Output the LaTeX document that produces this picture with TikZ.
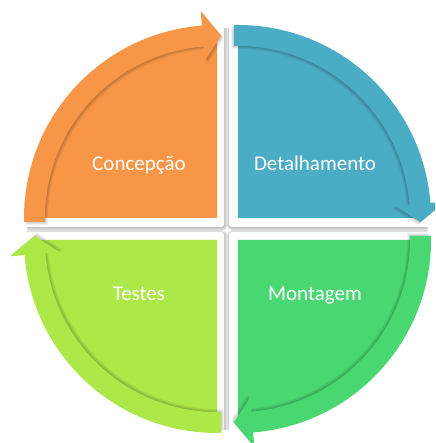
\documentclass[tikz,border=0pt]{standalone}
\usepackage{fontspec}
\setmainfont{Carlito}
\definecolor{corange}{RGB}{247,150,70}
\definecolor{cblue}{RGB}{75,172,198}
\definecolor{clime}{RGB}{173,232,73}
\definecolor{cgreen}{RGB}{73,215,114}
\tikzset{
  lbl/.style={text=white, font=\fontsize{21}{25}\selectfont, anchor=base, inner sep=0pt},
  panelshadow/.style={draw=black, opacity=0.045, rounded corners=3pt},
  bandshadow/.style={fill=black, opacity=0.045},
}
% band with arrow head, centred at origin, start angle #1, clockwise
\newcommand{\bandpath}[1]{%
 (#1+1.332:172.05) -- (#1+1.188:193.04) -- (#1:193)
 arc[start angle=#1, end angle=#1-85.5, radius=193]
 -- (#1-85.5:207.5) -- (#1-91.3:182.5) -- (#1-85.5:157.5)
 -- (#1-85.5:172) arc[start angle=#1-85.5, end angle=#1, radius=172] -- cycle}
\begin{document}
\begin{tikzpicture}[x=1pt,y=1pt]
\useasboundingbox (0,0) rectangle (435,443);
\clip (0,0) rectangle (435,443);
% panel shadows
\foreach \cx/\cy/\px/\py/\ex/\ey in {217/225/224/216/-100/500, 238/225/229/216/535/500, 217/203/224/211/-100/-100, 238/203/229/211/535/-100} {
  \begin{scope}
    \clip (\cx,\cy) circle[radius=190];
    \foreach \w in {1,...,6}
      \draw[panelshadow, line width=\w pt] (\px+0.6,\py-1) rectangle (\ex,\ey);
  \end{scope}
}
% white panels
\foreach \cx/\cy/\px/\py/\ex/\ey in {217/225/224/216/-100/500, 238/225/229/216/535/500, 217/203/224/211/-100/-100, 238/203/229/211/535/-100} {
  \begin{scope}
    \clip (\cx,\cy) circle[radius=190];
    \fill[white, rounded corners=3pt] (\px,\py) rectangle (\ex,\ey);
  \end{scope}
}
% coloured quarters
\foreach \cx/\cy/\s/\col in {217/225/180/corange, 238/225/90/cblue, 238/203/0/cgreen, 217/203/-90/clime} {
  \fill[\col] (\cx,\cy) -- ++(\s:180) arc[start angle=\s, end angle=\s-90, radius=180] -- cycle;
}
% arrow bands with soft shadows
\foreach \cx/\cy/\s/\col in {217/225/180/corange, 238/225/90/cblue, 238/203/0/cgreen, 217/203/-90/clime} {
  \foreach \d in {0.8,1.6,2.4,3.2,4.0}
    \fill[bandshadow, shift={(\cx,\cy)}, shift={(\s+135:\d)}] \bandpath{\s};
  \fill[\col, shift={(\cx,\cy)}] \bandpath{\s};
}
\node[lbl] (t1) at (139,272.3) {Concepção};
\node[lbl] (t2) at (315,272.3) {Detalhamento};
\node[lbl] (t3) at (139,142) {Testes};
\node[lbl] (t4) at (315,142) {Montagem};
\end{tikzpicture}
\end{document}
